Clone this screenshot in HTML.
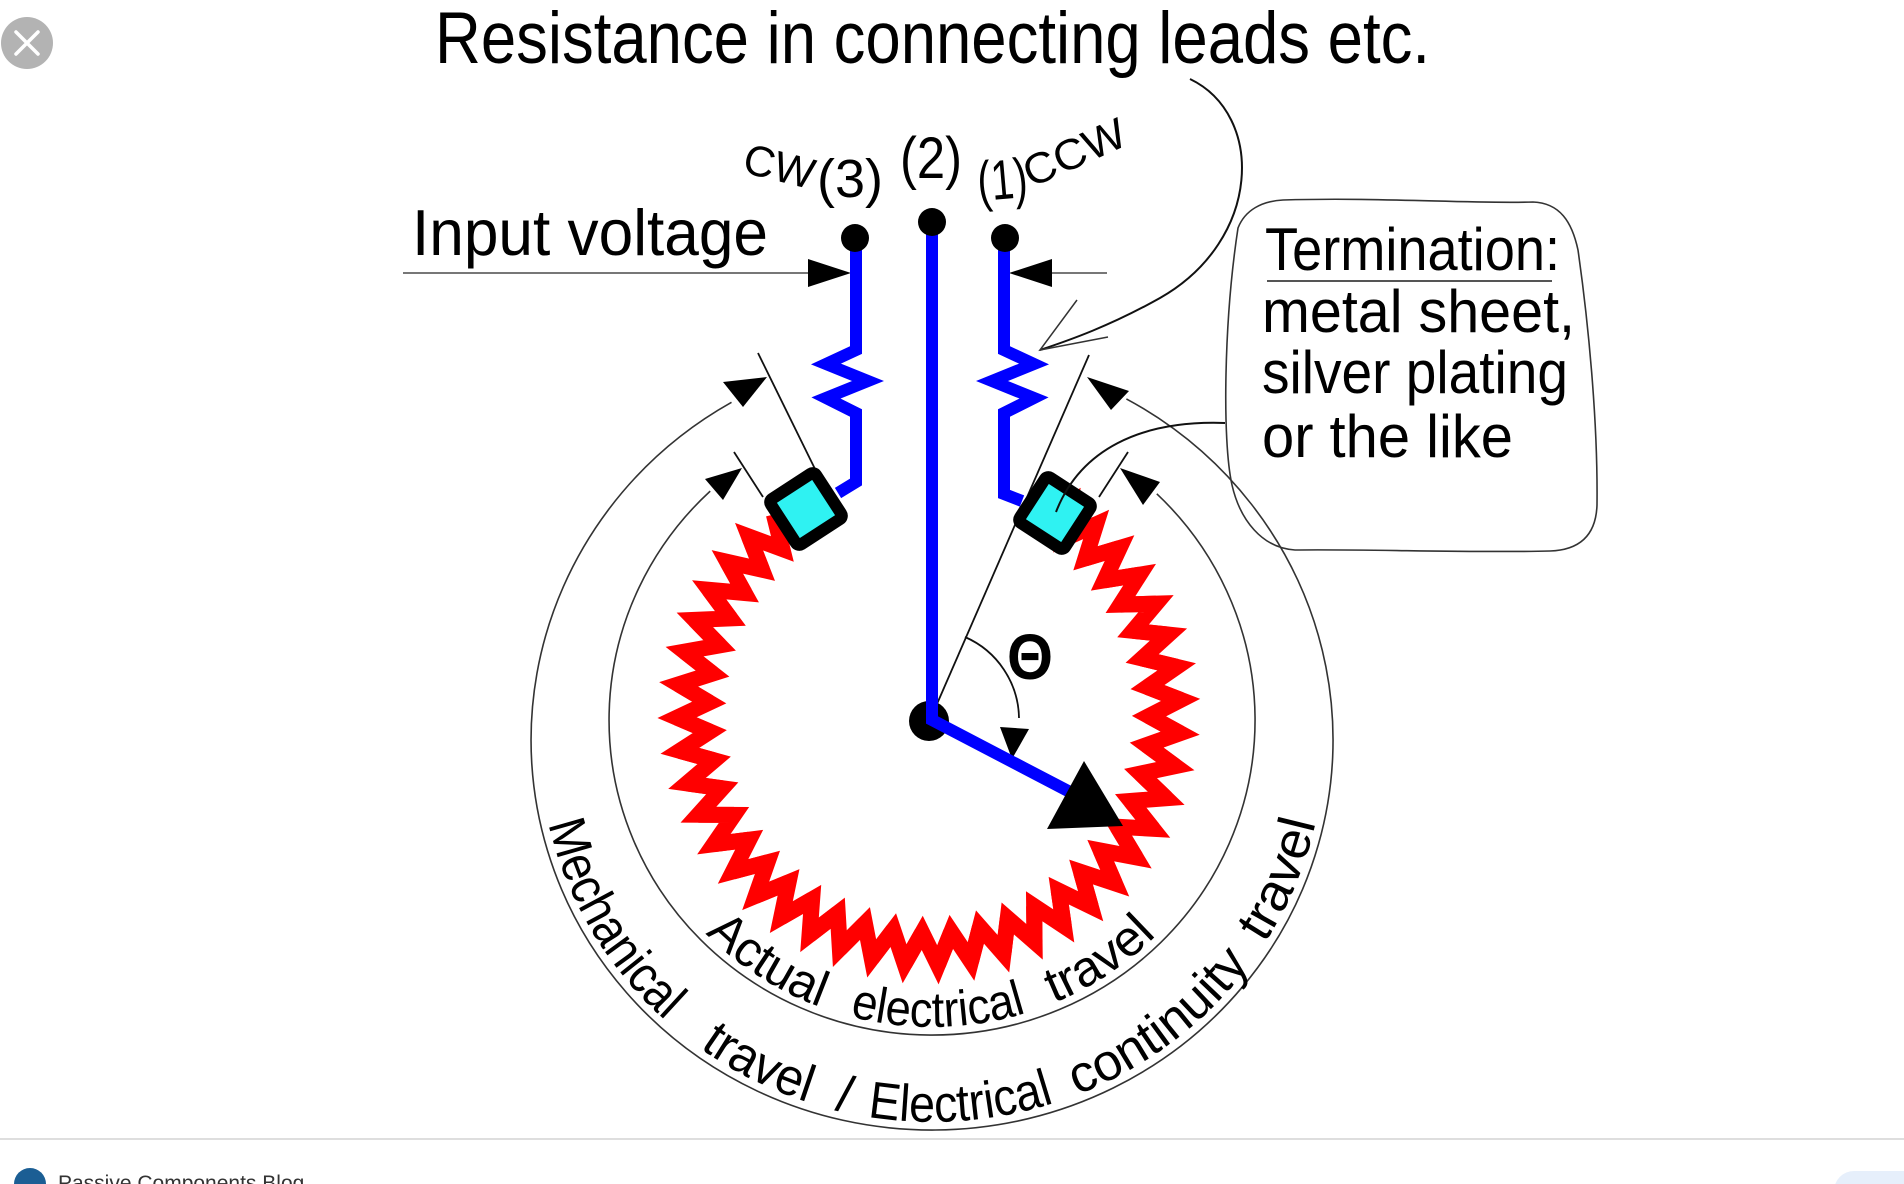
<!DOCTYPE html>
<html><head><meta charset="utf-8">
<style>
html,body{margin:0;padding:0;background:#fff;}
body{width:1904px;height:1184px;overflow:hidden;}
svg{display:block;}
text{font-family:"Liberation Sans",Arial,sans-serif;fill:#000;}
</style></head><body>
<svg width="1904" height="1184" viewBox="0 0 1904 1184" xmlns="http://www.w3.org/2000/svg">
<defs>
<path id="zz" d="M219.52,-14.54 L252,0 L219.52,14.54 L249.80,33.24" fill="none" stroke="#ff0000" stroke-width="16" stroke-linejoin="miter" stroke-miterlimit="10"/>
<path id="outerTxt" d="M545,806.3 A393,382 0 0 0 1323.5,773.3" fill="none"/>
<path id="innerTxt" d="M690.7,917.3 A315,307 0 0 0 1173.3,917.3" fill="none"/>
</defs>

<!-- close button -->
<circle cx="27" cy="43" r="26" fill="#b3b3b3"/>
<path d="M16,32 L38,54 M38,32 L16,54" stroke="#fff" stroke-width="3.5" stroke-linecap="round"/>

<!-- title -->
<text x="435" y="63" font-size="73" textLength="995" lengthAdjust="spacingAndGlyphs">Resistance in connecting leads etc.</text>

<!-- resistance leader -->
<path d="M1190,79 C1265,115 1262,240 1160,298 C1110,326 1070,340 1040,350" fill="none" stroke="#111" stroke-width="2"/>
<path d="M1077,300 L1040,350 L1108,337" fill="none" stroke="#333" stroke-width="1.5"/>

<!-- terminal labels -->
<text x="741" y="172" font-size="43" transform="rotate(14 741 172)">CW</text>
<text x="817" y="197" font-size="54" textLength="66" lengthAdjust="spacingAndGlyphs">(3)</text>
<text x="900" y="178" font-size="58" textLength="62" lengthAdjust="spacingAndGlyphs">(2)</text>
<text x="979" y="201" font-size="56" textLength="50" lengthAdjust="spacingAndGlyphs" transform="rotate(-5 979 201)">(1)</text>
<text x="1031" y="188" font-size="43" textLength="108" lengthAdjust="spacingAndGlyphs" transform="rotate(-24 1031 188)">CCW</text>

<!-- input voltage -->
<text x="412" y="255" font-size="65" textLength="356" lengthAdjust="spacingAndGlyphs">Input voltage</text>
<line x1="403" y1="273" x2="810" y2="273" stroke="#777" stroke-width="2"/>
<polygon points="808,259 851,273 808,287" fill="#000"/>
<line x1="1050" y1="273" x2="1107" y2="273" stroke="#777" stroke-width="2"/>
<polygon points="1052,259 1009,273 1052,287" fill="#000"/>

<!-- outer (mechanical) arc -->
<path d="M731.5,402.3 A401,390 0 1 0 1126.4,398.9" fill="none" stroke="#333" stroke-width="1.6"/>
<polygon points="767,377 723,382 743,407" fill="#000"/>
<polygon points="1087,377 1129,391 1111,410" fill="#000"/>
<!-- inner (electrical) arc -->
<path d="M710.2,491.1 A323,315 0 1 0 1156.8,493.8" fill="none" stroke="#333" stroke-width="1.6"/>
<polygon points="742,468 705,479 723,500" fill="#000"/>
<polygon points="1120,468 1160,482 1143,505" fill="#000"/>

<!-- ticks -->
<line x1="758" y1="353" x2="816" y2="471" stroke="#111" stroke-width="1.8"/>
<line x1="734" y1="452" x2="763" y2="497" stroke="#111" stroke-width="1.8"/>
<line x1="930" y1="720" x2="1089" y2="355" stroke="#111" stroke-width="1.8"/>
<line x1="1128" y1="452" x2="1099" y2="497" stroke="#111" stroke-width="1.8"/>

<!-- arc texts -->
<text font-size="52"><textPath href="#outerTxt" startOffset="18" textLength="232" lengthAdjust="spacingAndGlyphs">Mechanical</textPath></text>
<text font-size="52"><textPath href="#outerTxt" startOffset="294" textLength="121" lengthAdjust="spacingAndGlyphs">travel</textPath></text>
<text font-size="52"><textPath href="#outerTxt" startOffset="443">/</textPath></text>
<text font-size="52"><textPath href="#outerTxt" startOffset="477" textLength="189" lengthAdjust="spacingAndGlyphs">Electrical</textPath></text>
<text font-size="52"><textPath href="#outerTxt" startOffset="690" textLength="220" lengthAdjust="spacingAndGlyphs">continuity</textPath></text>
<text font-size="52"><textPath href="#outerTxt" startOffset="935" textLength="132" lengthAdjust="spacingAndGlyphs">travel</textPath></text>

<text font-size="50"><textPath href="#innerTxt" startOffset="22" textLength="137" lengthAdjust="spacingAndGlyphs">Actual</textPath></text>
<text font-size="50"><textPath href="#innerTxt" startOffset="190" textLength="179" lengthAdjust="spacingAndGlyphs">electrical</textPath></text>
<text font-size="50"><textPath href="#innerTxt" startOffset="398" textLength="124" lengthAdjust="spacingAndGlyphs">travel</textPath></text>

<!-- red resistive element -->
<g transform="translate(929,713)">
<use href="#zz" transform="rotate(-56.04)"/>
<use href="#zz" transform="rotate(-48.46)"/>
<use href="#zz" transform="rotate(-40.88)"/>
<use href="#zz" transform="rotate(-33.30)"/>
<use href="#zz" transform="rotate(-25.72)"/>
<use href="#zz" transform="rotate(-18.14)"/>
<use href="#zz" transform="rotate(-10.56)"/>
<use href="#zz" transform="rotate(-2.98)"/>
<use href="#zz" transform="rotate(4.60)"/>
<use href="#zz" transform="rotate(12.18)"/>
<use href="#zz" transform="rotate(19.76)"/>
<use href="#zz" transform="rotate(27.34)"/>
<use href="#zz" transform="rotate(34.92)"/>
<use href="#zz" transform="rotate(42.50)"/>
<use href="#zz" transform="rotate(50.08)"/>
<use href="#zz" transform="rotate(57.66)"/>
<use href="#zz" transform="rotate(65.24)"/>
<use href="#zz" transform="rotate(72.82)"/>
<use href="#zz" transform="rotate(80.40)"/>
<use href="#zz" transform="rotate(87.98)"/>
<use href="#zz" transform="rotate(95.56)"/>
<use href="#zz" transform="rotate(103.14)"/>
<use href="#zz" transform="rotate(110.72)"/>
<use href="#zz" transform="rotate(118.30)"/>
<use href="#zz" transform="rotate(125.88)"/>
<use href="#zz" transform="rotate(133.46)"/>
<use href="#zz" transform="rotate(141.04)"/>
<use href="#zz" transform="rotate(148.62)"/>
<use href="#zz" transform="rotate(156.20)"/>
<use href="#zz" transform="rotate(163.78)"/>
<use href="#zz" transform="rotate(171.36)"/>
<use href="#zz" transform="rotate(178.94)"/>
<use href="#zz" transform="rotate(186.52)"/>
<use href="#zz" transform="rotate(194.10)"/>
<use href="#zz" transform="rotate(201.68)"/>
<use href="#zz" transform="rotate(209.26)"/>
<use href="#zz" transform="rotate(216.84)"/>
<use href="#zz" transform="rotate(224.42)"/>
</g>

<!-- theta -->
<path d="M965,637 A90,90 0 0 1 1019,718" fill="none" stroke="#111" stroke-width="1.8"/>
<polygon points="1000,727 1029,729 1012,759" fill="#000"/>
<text x="1030" y="679" font-size="64" font-weight="bold" text-anchor="middle" textLength="46" lengthAdjust="spacingAndGlyphs">Θ</text>

<!-- rotor dot -->
<circle cx="929" cy="721" r="20" fill="#000"/>

<!-- blue leads -->
<path d="M856,238 V350 L826,364 L868,381 L826,398 L856,413 V482 L838,493" fill="none" stroke="#0000ff" stroke-width="12" stroke-linejoin="miter"/>
<path d="M1004,238 V350 L1034,364 L992,381 L1034,398 L1004,413 V494 L1022,501" fill="none" stroke="#0000ff" stroke-width="12" stroke-linejoin="miter"/>
<path d="M932,222 V720 L1070,792" fill="none" stroke="#0000ff" stroke-width="12" stroke-linejoin="miter"/>

<!-- top dots -->
<circle cx="855" cy="238" r="14" fill="#000"/>
<circle cx="932" cy="222" r="14" fill="#000"/>
<circle cx="1005" cy="238" r="14" fill="#000"/>

<!-- wiper arrowhead -->
<polygon points="1084,761 1047,829 1123,826" fill="#000"/>

<!-- termination squares -->
<g transform="translate(806,509) rotate(-33)">
<rect x="-27" y="-27" width="54" height="54" rx="4" fill="#2ff2f2" stroke="#000" stroke-width="12"/>
</g>
<g transform="translate(1055,513) rotate(33)">
<rect x="-27" y="-27" width="54" height="54" rx="4" fill="#2ff2f2" stroke="#000" stroke-width="12"/>
</g>

<!-- termination leader -->
<path d="M1225,423 C1140,420 1080,450 1056,512" fill="none" stroke="#111" stroke-width="2"/>

<!-- termination box -->
<path d="M1283,200 C1380,197 1470,204 1533,202 C1560,203 1572,222 1578,250 C1588,320 1598,420 1597,505 C1596,535 1580,550 1550,551 C1470,553 1370,549 1295,550 C1262,548 1240,520 1232,485 C1222,440 1224,320 1238,228 C1245,210 1262,201 1283,200 Z" fill="none" stroke="#333" stroke-width="1.6"/>
<text x="1265" y="270" font-size="60" textLength="295" lengthAdjust="spacingAndGlyphs">Termination:</text>
<line x1="1267" y1="281" x2="1552" y2="281" stroke="#555" stroke-width="2"/>
<text x="1262" y="332" font-size="60" textLength="313" lengthAdjust="spacingAndGlyphs">metal sheet,</text>
<text x="1262" y="393" font-size="60" textLength="306" lengthAdjust="spacingAndGlyphs">silver plating</text>
<text x="1262" y="457" font-size="60" textLength="251" lengthAdjust="spacingAndGlyphs">or the like</text>

<!-- bottom bar -->
<line x1="0" y1="1139" x2="1904" y2="1139" stroke="#dedede" stroke-width="2"/>
<circle cx="30" cy="1184" r="16" fill="#1b5e94"/>
<text x="58" y="1190" font-size="21" style="fill:#333">Passive Components Blog</text>
<rect x="1834" y="1171" width="120" height="40" rx="20" fill="#e6effb"/>
</svg>
</body></html>
